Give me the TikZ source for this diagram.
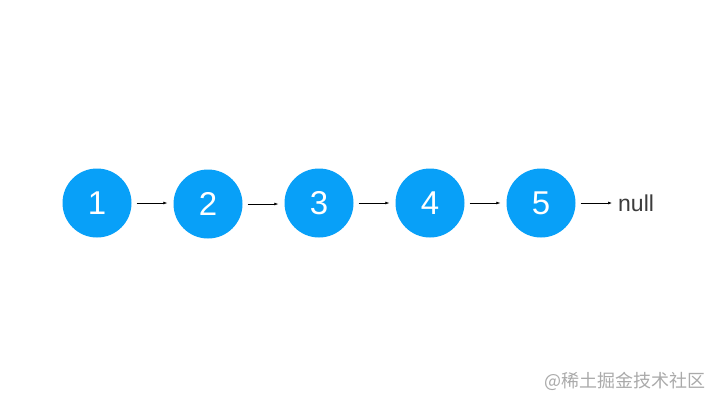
\documentclass[tikz,border=0pt]{standalone}
\usepackage{fontspec}
\setmainfont{Liberation Sans}
\newfontfamily\cjk{Noto Sans CJK SC}
\usetikzlibrary{arrows.meta}
\definecolor{nodeblue}{RGB}{8,160,248}
\definecolor{txtgray}{RGB}{60,60,60}
\definecolor{wmgray}{RGB}{170,170,170}
\tikzset{
  lnode/.style={circle, fill=nodeblue, minimum size=69pt, inner sep=0pt, text=white, font=\fontsize{33}{33}\selectfont},
  link/.style={-{Latex[length=4pt,width=3pt]}, line width=0.6pt, black},
}
\begin{document}
\begin{tikzpicture}[x=1pt,y=-1pt]
\useasboundingbox (0,0) rectangle (720,405);
\fill[white] (0,0) rectangle (720,405);
\node[lnode] (n1) at (97,203) {1};
\node[lnode] (n2) at (208,204) {2};
\node[lnode] (n3) at (319,203) {3};
\node[lnode] (n4) at (430,203) {4};
\node[lnode] (n5) at (541,203) {5};
\node[anchor=west, text=txtgray, font=\fontsize{23}{23}\selectfont, inner sep=0pt] (nl) at (618,203) {null};
\draw[link] ([xshift=5pt]n1.east) -- ([xshift=-6pt]n2.west |- n1.east);
\draw[link] ([xshift=5pt]n2.east) -- ([xshift=-6pt]n3.west |- n2.east);
\draw[link] ([xshift=5pt]n3.east) -- ([xshift=-6pt]n4.west |- n3.east);
\draw[link] ([xshift=5pt]n4.east) -- ([xshift=-6pt]n5.west |- n4.east);
\draw[link] ([xshift=5pt]n5.east) -- ([xshift=-6pt]nl.west |- n5.east);
\node[anchor=east, text=wmgray, font=\cjk\fontsize{18}{18}\selectfont, inner sep=0pt] (wm) at (706,381) {@稀土掘金技术社区};
\end{tikzpicture}
\end{document}
